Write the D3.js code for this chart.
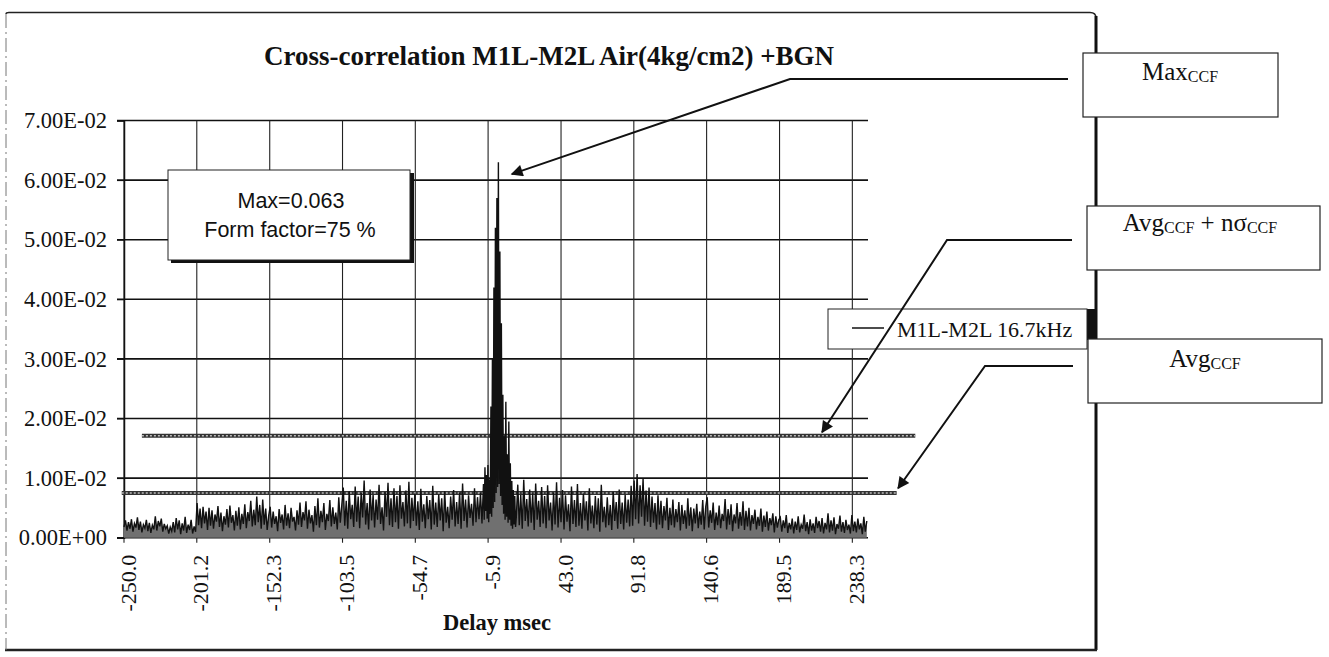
<!DOCTYPE html>
<html>
<head>
<meta charset="utf-8">
<script src="https://cdn.jsdelivr.net/npm/d3@7"></script>
<style>
  body { margin: 0; background: #fff; }
  .serif { font-family: "Liberation Serif", "Times New Roman", serif; }
  .sans { font-family: "Liberation Sans", Arial, sans-serif; }
</style>
</head>
<body>
<div class="chart"></div>
<script>
// Tick values and labels
var yTicks = [0, 0.01, 0.02, 0.03, 0.04, 0.05, 0.06, 0.07];
var yTickLabels = ["0.00E+00", "1.00E-02", "2.00E-02", "3.00E-02", "4.00E-02", "5.00E-02", "6.00E-02", "7.00E-02"];
var xTicks = [-250.0, -201.2, -152.3, -103.5, -54.7, -5.9, 43.0, 91.8, 140.6, 189.5, 238.3];
var xTickLabels = ["-250.0", "-201.2", "-152.3", "-103.5", "-54.7", "-5.9", "43.0", "91.8", "140.6", "189.5", "238.3"];

// CCF values in units of 1e-3
// left part: -250 .. -9 msec, 1 msec step
var ccfLeftStart = -250;
var ccfLeftMilli = [
  1.8, 2.9, 1.2, 2.6, 1.5, 3.1, 1.0, 2.4, 1.7, 3.4,
  1.3, 2.7, 0.9, 2.2, 1.6, 3.0, 1.1, 2.5, 0.8, 2.1,
  1.4, 3.6, 1.2, 2.8, 1.9, 3.2, 1.0, 2.3, 1.5, 2.0,
  0.7, 1.8, 1.1, 2.6, 0.9, 3.3, 1.4, 2.9, 0.6, 2.4,
  1.2, 3.5, 0.8, 2.2, 1.3, 3.0, 0.7, 1.9, 1.0,
  5.8, 2.1, 4.9, 1.6, 5.2, 2.4, 4.4, 1.3, 5.0, 2.0,
  4.6, 1.5, 3.9, 2.7, 5.3, 1.8, 4.2, 1.1, 3.6, 2.2,
  4.8, 1.7, 5.4, 2.5, 3.8, 1.2, 4.5, 2.0, 5.1, 1.4,
  4.0, 2.3, 5.6, 1.6, 4.3, 2.8, 6.2, 1.9, 4.7, 2.1,
  6.9, 2.6, 5.5, 1.5, 6.4, 2.2, 4.9, 1.3, 3.7,
  5.2, 1.7, 4.4, 2.3, 3.6, 1.1, 4.8, 2.5, 3.9, 1.4,
  5.5, 2.0, 4.1, 1.6, 5.0, 2.7, 3.5, 1.2, 4.6, 2.2,
  5.9, 1.8, 4.3, 2.9, 6.1, 1.5, 4.7, 2.4, 3.8, 1.0,
  5.3, 2.1, 6.6, 1.7, 4.5, 2.6, 5.8, 1.3, 4.0, 2.8,
  6.3, 1.9, 5.1, 2.3, 4.2, 1.4, 6.8, 2.5, 5.4,
  8.4, 2.0, 6.2, 1.5, 7.8, 3.1, 5.5, 1.8, 8.6, 2.7,
  6.9, 1.6, 7.5, 3.4, 9.6, 2.2, 5.8, 1.4, 8.1, 2.9,
  7.2, 1.7, 6.4, 3.0, 8.9, 2.3, 5.1, 1.2, 7.7, 3.5,
  9.2, 2.1, 6.6, 1.8, 8.3, 2.6, 7.0, 1.5, 8.8, 3.2,
  6.0, 1.9, 7.9, 2.4, 9.4, 1.6, 6.7, 2.8,
  7.4, 2.0, 6.1, 1.3, 8.2, 2.7, 5.6, 1.6, 7.0, 3.1,
  6.3, 1.4, 8.7, 2.2, 5.9, 1.8, 7.3, 2.9, 6.6, 1.1,
  7.8, 2.5, 5.2, 1.6, 6.9, 3.0, 8.0, 1.9, 6.0, 2.3,
  7.6, 1.5, 9.1, 2.8, 6.4, 1.7, 7.1, 3.3, 5.7, 2.0,
  8.3, 2.6, 6.8, 3.1, 7.5, 2.4, 9.0
];
// peak part: -8.5 .. 12.5 msec, 0.5 msec step
var ccfPeakStart = -8.5;
var ccfPeakStep = 0.5;
var ccfPeakMilli = [
  3.0, 11.8, 4.5, 10.5, 3.2, 12.2, 2.6, 9.8, 4.0, 22.0,
  3.5, 30.0, 5.0, 42.0, 6.0, 52.0, 7.5, 57.0, 8.5, 63.0,
  9.0, 48.0, 7.0, 36.0, 5.5, 24.0, 4.0, 17.0, 3.0, 22.8,
  3.5, 14.0, 2.5, 19.5, 3.0, 12.5, 2.0, 9.5, 1.5, 8.0,
  2.2, 7.0, 1.8
];
// right part: 13 .. 248 msec, 1 msec step
var ccfRightStart = 13;
var ccfRightMilli = [
  3.4, 8.9, 2.1, 7.2, 1.5, 9.7, 2.8, 6.5, 1.9, 8.1,
  2.5, 7.4, 1.3, 9.1, 3.0, 6.2, 1.8, 8.5, 2.4, 7.0,
  1.6, 8.8, 2.9, 5.9, 1.2, 7.6, 2.2, 9.3, 1.7, 6.7,
  2.6,
  8.0, 1.4, 7.1, 2.7, 5.6, 1.1, 8.6, 2.3, 6.3, 1.8,
  9.0, 2.0, 5.8, 1.5, 7.4, 2.9, 6.1, 1.2, 8.3, 2.4,
  5.4, 1.6, 7.0, 2.2, 6.6, 1.0, 8.9, 2.6, 5.2, 1.7,
  6.8, 2.1, 5.5, 1.3, 7.7, 2.8, 6.0, 1.5, 8.1, 2.3,
  5.9, 1.4, 7.2, 2.5, 6.4, 1.9, 8.7, 2.0,
  9.6, 3.1, 10.7, 2.4, 8.8, 3.5, 9.9, 2.0, 7.9, 2.7,
  8.4, 1.8, 6.9, 2.5, 5.8, 1.4, 7.1, 2.2, 6.2, 1.6,
  5.3, 2.9, 6.7, 1.3, 5.0, 2.1, 6.4, 1.7, 4.8, 2.6,
  6.0, 1.2, 5.5, 2.3, 4.6, 1.5, 6.6, 2.0, 5.1, 1.1,
  4.9, 2.4, 5.7, 1.6, 4.4, 2.2, 6.3, 1.4, 5.2,
  6.8, 1.7, 4.6, 2.5, 5.9, 1.3, 4.2, 2.1, 5.4, 1.6,
  4.0, 2.8, 6.5, 1.4, 4.8, 2.2, 5.6, 1.1, 3.9, 2.4,
  5.8, 1.5, 4.3, 2.0, 6.1, 1.3, 4.5, 1.9, 5.0, 1.2,
  3.8, 2.3, 4.7, 1.4, 3.5, 2.0, 4.9, 1.0, 3.7, 1.8,
  4.4, 1.2, 3.3, 2.1, 4.1, 0.9, 3.6, 1.7, 3.0,
  3.4, 1.0, 2.9, 1.6, 3.8, 0.8, 2.5, 1.4, 3.2, 0.7,
  2.7, 1.3, 3.6, 0.9, 2.2, 1.5, 3.9, 1.1, 2.6, 0.6,
  3.1, 1.2, 2.4, 0.8, 3.5, 1.6, 2.8, 1.0, 3.3, 0.7,
  2.5, 1.4, 4.1, 0.9, 2.9, 1.2, 3.4, 0.6, 2.3, 1.5,
  3.7, 1.0, 2.6, 0.8, 3.0, 1.3, 2.2, 0.7, 3.8, 1.1,
  2.7, 0.9, 3.2, 1.4, 2.4, 0.6, 3.5, 1.0, 2.8
];

// Threshold levels and the delay span of their drawn lines
var avgLevel = 0.0075;
var avgSpan = [-251.5, 268];
var avgSigmaLevel = 0.0171;
var avgSigmaSpan = [-238, 280.5];

var svgWidth = 1329;
var svgHeight = 657;

var margin = { top: 120.5, left: 124 };
var width = 744;
var height = 417.2;

var svg = d3.select(".chart")
  .append("svg")
  .attr("width", svgWidth)
  .attr("height", svgHeight);

// build the series
var ccf = [];
ccfLeftMilli.forEach(function(v, i) { ccf.push({ t: ccfLeftStart + i, v: v / 1000 }); });
ccfPeakMilli.forEach(function(v, i) { ccf.push({ t: ccfPeakStart + i * ccfPeakStep, v: v / 1000 }); });
ccfRightMilli.forEach(function(v, i) { ccf.push({ t: ccfRightStart + i, v: v / 1000 }); });

var xScale = d3.scaleLinear().domain([-250, 248.8]).range([0, width]);
var yScale = d3.scaleLinear().domain([0, 0.07]).range([height, 0]);

// outer chart frame
svg.append("path")
  .attr("d", "M6,14 Q6,12.5 9,12.5 L1090,12.5 Q1096,12.5 1096,18 L1096,650")
  .attr("fill", "none").attr("stroke", "#222").attr("stroke-width", 1.4);
svg.append("line").attr("x1", 1096).attr("x2", 1096).attr("y1", 16).attr("y2", 650)
  .attr("stroke", "#111").attr("stroke-width", 3);
svg.append("line").attr("x1", 5).attr("x2", 1097).attr("y1", 650).attr("y2", 650)
  .attr("stroke", "#222").attr("stroke-width", 2.5);
svg.append("line").attr("x1", 6).attr("x2", 6).attr("y1", 14).attr("y2", 650)
  .attr("stroke", "#777").attr("stroke-width", 1).attr("stroke-dasharray", "14,4,2,4");

var chartGroup = svg.append("g")
  .attr("transform", `translate(${margin.left}, ${margin.top})`);

// horizontal gridlines
chartGroup.append("g")
  .selectAll("line")
  .data(yTicks)
  .enter()
  .append("line")
  .attr("x1", -7)
  .attr("x2", width)
  .attr("y1", d => yScale(d))
  .attr("y2", d => yScale(d))
  .attr("stroke", "#111")
  .attr("stroke-width", 1.6);

// vertical gridlines
chartGroup.append("g")
  .selectAll("line")
  .data(xTicks)
  .enter()
  .append("line")
  .attr("x1", d => xScale(d))
  .attr("x2", d => xScale(d))
  .attr("y1", 0)
  .attr("y2", height + 5)
  .attr("stroke", "#222")
  .attr("stroke-width", 1.1);

// y axis labels
var leftAxis = d3.axisLeft(yScale)
  .tickValues(yTicks)
  .tickFormat((d, i) => yTickLabels[i])
  .tickSize(7)
  .tickPadding(10);
var yAxisG = chartGroup.append("g").call(leftAxis);
yAxisG.select(".domain").attr("stroke", "#111").attr("stroke-width", 1.5);
yAxisG.selectAll(".tick line").attr("stroke", "#111");
yAxisG.selectAll("text")
  .attr("class", "serif")
  .attr("font-size", "22.5px")
  .attr("fill", "#111");

// x axis labels
var bottomAxis = d3.axisBottom(xScale)
  .tickValues(xTicks)
  .tickFormat((d, i) => xTickLabels[i])
  .tickSize(0);
var xAxisG = chartGroup.append("g")
  .attr("transform", `translate(0, ${height})`)
  .call(bottomAxis);
xAxisG.select(".domain").remove();
xAxisG.selectAll("text")
  .attr("class", "serif")
  .attr("font-size", "22px")
  .attr("fill", "#111")
  .attr("text-anchor", "end")
  .attr("transform", "rotate(-90)")
  .attr("x", -17)
  .attr("y", 0)
  .attr("dy", "0.5em");

// threshold lines (Avg and Avg + n sigma)
[[avgLevel, avgSpan], [avgSigmaLevel, avgSigmaSpan]].forEach(function(th) {
  chartGroup.append("line")
    .attr("x1", xScale(th[1][0])).attr("x2", xScale(th[1][1]))
    .attr("y1", yScale(th[0])).attr("y2", yScale(th[0]))
    .attr("stroke", "#333").attr("stroke-width", 4);
  chartGroup.append("line")
    .attr("x1", xScale(th[1][0])).attr("x2", xScale(th[1][1]))
    .attr("y1", yScale(th[0])).attr("y2", yScale(th[0]))
    .attr("stroke", "#bbb").attr("stroke-width", 1.4)
    .attr("stroke-dasharray", "2,2");
});

// CCF trace: grey area under the dense trace, then the black trace
var ccfArea = d3.area()
  .x(d => xScale(d.t))
  .y0(yScale(0))
  .y1(d => yScale(d.v));

chartGroup.append("path")
  .datum(ccf)
  .attr("d", ccfArea)
  .attr("fill", "#707070");

var ccfLine = d3.line()
  .x(d => xScale(d.t))
  .y(d => yScale(d.v));

chartGroup.append("path")
  .datum(ccf)
  .attr("d", ccfLine)
  .attr("fill", "none")
  .attr("stroke", "#111")
  .attr("stroke-width", 1.4)
  .attr("stroke-linejoin", "miter");

// title and axis title
svg.append("text")
  .attr("class", "serif")
  .attr("x", 549)
  .attr("y", 65)
  .attr("text-anchor", "middle")
  .attr("font-size", "27px")
  .attr("font-weight", "bold")
  .attr("fill", "#111")
  .text("Cross-correlation M1L-M2L Air(4kg/cm2) +BGN");

svg.append("text")
  .attr("class", "serif")
  .attr("x", 497)
  .attr("y", 630)
  .attr("text-anchor", "middle")
  .attr("font-size", "22.5px")
  .attr("font-weight", "bold")
  .attr("fill", "#111")
  .text("Delay msec");

// Max / form factor box
svg.append("rect").attr("x", 171).attr("y", 173).attr("width", 243).attr("height", 90).attr("fill", "#111");
svg.append("rect").attr("x", 168).attr("y", 170).attr("width", 242).attr("height", 90)
  .attr("fill", "#fff").attr("stroke", "#222").attr("stroke-width", 1);
svg.append("text").attr("class", "sans").attr("x", 291).attr("y", 208)
  .attr("text-anchor", "middle").attr("font-size", "21.5px").attr("fill", "#111")
  .text("Max=" + 0.063);
svg.append("text").attr("class", "sans").attr("x", 290).attr("y", 237)
  .attr("text-anchor", "middle").attr("font-size", "21.5px").attr("fill", "#111")
  .text("Form factor=75 %");

// legend
svg.append("rect").attr("x", 1087).attr("y", 309).attr("width", 9).attr("height", 31).attr("fill", "#111");
svg.append("rect").attr("x", 828).attr("y", 309).attr("width", 259).attr("height", 40)
  .attr("fill", "#fff").attr("stroke", "#222").attr("stroke-width", 1);
svg.append("line").attr("x1", 852).attr("x2", 884).attr("y1", 328).attr("y2", 328)
  .attr("stroke", "#111").attr("stroke-width", 1.5);
svg.append("text").attr("class", "serif").attr("x", 897).attr("y", 337)
  .attr("font-size", "22px").attr("fill", "#111")
  .text("M1L-M2L 16.7kHz");

// callout boxes
function callout(x, y, w, h, parts, tx, ty) {
  svg.append("rect").attr("x", x).attr("y", y).attr("width", w).attr("height", h)
    .attr("fill", "#fff").attr("stroke", "#222").attr("stroke-width", 1.2);
  var t = svg.append("text").attr("class", "serif").attr("x", tx).attr("y", ty)
    .attr("text-anchor", "middle").attr("fill", "#111");
  parts.forEach(function(p) {
    t.append("tspan")
      .attr("font-size", p[1] ? "16px" : "25px")
      .attr("dy", p[1] ? 2 : (p[2] ? -2 : 0))
      .text(p[0]);
  });
}
callout(1083, 53, 195, 64, [["Max"], ["CCF", true]], 1180, 80);
callout(1087, 206, 233, 64, [["Avg"], ["CCF", true], [" + n\u03c3", false, true], ["CCF", true]], 1200, 231);
callout(1088, 339, 234, 64, [["Avg"], ["CCF", true]], 1205, 367);

// arrows
svg.append("defs").append("marker")
  .attr("id", "arrow")
  .attr("viewBox", "0 0 10 10")
  .attr("refX", 9).attr("refY", 5)
  .attr("markerWidth", 7).attr("markerHeight", 6)
  .attr("markerUnits", "strokeWidth")
  .attr("orient", "auto")
  .append("path").attr("d", "M0,0 L10,5 L0,10 Z").attr("fill", "#111");

var arrows = [
  [[1068, 79], [790, 79], [margin.left + xScale(10), margin.top + yScale(0.061)]],
  [[1072, 240], [947, 240], [margin.left + xScale(218), margin.top + yScale(0.0177)]],
  [[1073, 366], [985, 366], [margin.left + xScale(269), margin.top + yScale(0.0083)]]
];
arrows.forEach(function(a) {
  svg.append("path")
    .attr("d", d3.line()(a))
    .attr("fill", "none")
    .attr("stroke", "#111")
    .attr("stroke-width", 2)
    .attr("marker-end", "url(#arrow)");
});
</script>
</body>
</html>
